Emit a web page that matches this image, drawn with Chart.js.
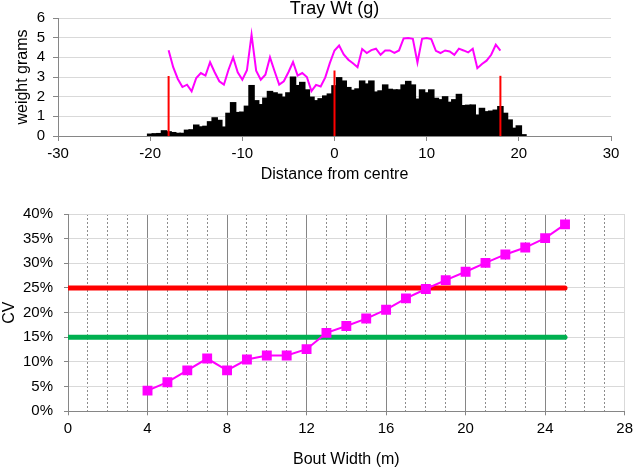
<!DOCTYPE html>
<html>
<head>
<meta charset="utf-8">
<script src="https://cdn.jsdelivr.net/npm/chart.js@4.4.1/dist/chart.umd.min.js"></script>
<style>
  html, body { margin: 0; padding: 0; background: #fff; }
  canvas { display: block; }
</style>
</head>
<body>
<canvas id="trayChart" width="638" height="190"></canvas>
<canvas id="cvChart" width="638" height="280"></canvas>
<script>
// ---- top chart: tray weights across the bout ----
const binStart = -20;
const binStep = 0.5;
const trayWeights = [
    0.1, 0.12, 0.13, 0.27, 0.22, 0.18, 0.14, 0.14, 0.3, 0.32,
    0.56, 0.47, 0.5, 0.73, 0.93, 0.8, 0.46, 1.16, 1.7, 1.2,
    1.22, 1.52, 2.57, 1.8, 1.6, 1.93, 2.27, 2.2, 2.13, 1.98,
    2.2, 3.0, 2.57, 2.73, 2.35, 1.98, 1.8, 1.9, 2.04, 2.14,
    2.56, 2.97, 2.8, 2.47, 2.33, 2.4, 2.8, 2.65, 2.8, 2.24,
    2.3, 2.6, 2.38, 2.35, 2.35, 2.6, 2.78, 2.6, 1.88, 2.35,
    2.2, 2.35, 1.92, 1.85, 2.0, 1.72, 1.85, 2.12, 1.55, 1.57,
    1.58, 1.07, 1.41, 1.24, 1.27, 1.32, 1.5, 1.16, 0.82, 0.4,
    0.52, 0.07
];

const spreadStart = -18;
const spreadStep = 0.5;
const spreadValues = [
    4.36, 3.5, 2.9, 2.49, 2.61, 2.27, 2.95, 3.2, 3.07, 3.75,
    3.24, 2.78, 2.61, 3.37, 4.0, 3.24, 2.86, 3.34, 5.15, 3.32,
    2.86, 3.12, 4.0, 3.29, 2.61, 2.78, 3.24, 3.76, 3.07, 3.2,
    3.0, 2.28, 2.6, 2.52, 2.98, 3.72,
    4.35, 4.6, 4.15, 3.88, 3.7, 3.5, 4.42, 4.22, 4.37, 4.44,
    4.13, 4.35, 4.35, 4.23, 4.35, 4.96, 4.98, 4.94, 3.74, 4.94,
    4.98, 4.93, 4.33, 4.22, 4.35, 4.3, 4.13, 4.44, 4.35, 4.25,
    4.44, 3.45, 3.66, 3.83, 4.13, 4.64, 4.34
];

const markerX = [-18, 0, 18];
const markerTop = [3.05, 3.33, 3.06];

// ---- bottom chart: CV against bout width ----
const boutWidth = [4, 5, 6, 7, 8, 9, 10, 11, 12, 13, 14, 15, 16, 17, 18, 19, 20, 21, 22, 23, 24, 25];
const cvPercent = [4.2, 5.9, 8.3, 10.7, 8.3, 10.5, 11.3, 11.3, 12.6, 15.9, 17.3, 18.8, 20.6, 22.9, 24.8, 26.6, 28.3, 30.1, 31.8, 33.2, 35.1, 37.9];
const limitX = [0, 25];
const upperLimit = 25;
const lowerLimit = 15;

Chart.defaults.font.family = '"Liberation Sans", Arial, sans-serif';
Chart.defaults.font.size = 15;
Chart.defaults.color = "#000";

const axisGrey = "#868686";
const gridGrey = "#d9d9d9";

function buildTrayChart() {
    const bars = trayWeights.map((w, i) => ({ x: binStart + i * binStep, y: w }));
    const spread = spreadValues.map((v, i) => ({ x: spreadStart + i * spreadStep, y: v }));

    const markers = markerX.map((x, i) => ({
        type: "line",
        data: [{ x: x, y: 0 }, { x: x, y: markerTop[i] }],
        borderColor: "#ff0000",
        borderWidth: 2,
        pointRadius: 0,
        order: 1
    }));

    new Chart(document.getElementById("trayChart"), {
        type: "bar",
        data: {
            datasets: [
                {
                    data: bars,
                    backgroundColor: "#000",
                    borderWidth: 0,
                    barPercentage: 1.2,
                    categoryPercentage: 1,
                    inflateAmount: 0.5,
                    order: 3
                },
                {
                    type: "line",
                    data: spread,
                    borderColor: "#ff00ff",
                    borderWidth: 2,
                    pointRadius: 0,
                    tension: 0,
                    order: 2
                },
                ...markers
            ]
        },
        options: {
            responsive: false,
            animation: false,
            events: [],
            layout: { padding: { left: 0, right: 27, top: 0, bottom: 0 } },
            plugins: {
                legend: { display: false },
                tooltip: { enabled: false },
                title: {
                    display: true,
                    text: "Tray Wt (g)",
                    fullSize: false,
                    color: "#000",
                    font: { size: 18, weight: "normal", lineHeight: 1 },
                    padding: 0
                }
            },
            scales: {
                x: {
                    type: "linear",
                    offset: false,
                    min: -30,
                    max: 30,
                    ticks: { stepSize: 10, padding: 4 },
                    grid: { drawOnChartArea: false, offset: false, tickLength: 5, tickColor: axisGrey },
                    border: { color: axisGrey },
                    title: {
                        display: true,
                        text: "Distance from centre",
                        font: { size: 16 },
                        padding: { top: 0, bottom: 6 }
                    },
                    afterFit: s => { s.height = 54; }
                },
                y: {
                    min: 0,
                    max: 6,
                    ticks: { stepSize: 1, padding: 8, autoSkip: false },
                    grid: { color: gridGrey, tickLength: 5, tickColor: axisGrey },
                    border: { color: axisGrey },
                    title: {
                        display: true,
                        text: "weight grams",
                        font: { size: 16 },
                        padding: { top: 13, bottom: 0 }
                    },
                    afterFit: s => { s.width = 58; }
                }
            }
        }
    });
}

function buildCvChart() {
    const cv = boutWidth.map((w, i) => ({ x: w, y: cvPercent[i] }));
    const upper = limitX.map(x => ({ x: x, y: upperLimit }));
    const lower = limitX.map(x => ({ x: x, y: lowerLimit }));

    new Chart(document.getElementById("cvChart"), {
        type: "line",
        data: {
            datasets: [
                {
                    data: cv,
                    borderColor: "#ff00ff",
                    backgroundColor: "#ff00ff",
                    borderWidth: 2,
                    pointStyle: "rect",
                    pointRadius: 7,
                    pointBorderWidth: 0,
                    tension: 0,
                    order: 1
                },
                {
                    data: upper,
                    borderColor: "#ff0000",
                    borderWidth: 5,
                    borderCapStyle: "round",
                    pointRadius: 0,
                    order: 2
                },
                {
                    data: lower,
                    borderColor: "#00b050",
                    borderWidth: 5,
                    borderCapStyle: "round",
                    pointRadius: 0,
                    order: 3
                }
            ]
        },
        options: {
            responsive: false,
            animation: false,
            events: [],
            layout: { padding: { left: 0, right: 12, top: 24, bottom: 0 } },
            plugins: {
                legend: { display: false },
                tooltip: { enabled: false }
            },
            scales: {
                x: {
                    type: "linear",
                    min: 0,
                    max: 28,
                    ticks: { stepSize: 4, padding: 5 },
                    grid: {
                        color: c => (c.tick && c.tick.value === 28) ? gridGrey : axisGrey,
                        tickLength: 4,
                        tickColor: axisGrey
                    },
                    border: { color: axisGrey },
                    title: {
                        display: true,
                        text: "Bout Width (m)",
                        font: { size: 16 },
                        padding: { top: 0, bottom: 1 }
                    },
                    afterFit: s => { s.height = 58.7; }
                },
                xMinor: {
                    type: "linear",
                    position: "bottom",
                    min: 0,
                    max: 28,
                    ticks: { display: false, stepSize: 1 },
                    grid: {
                        drawTicks: false,
                        color: c => (c.tick && c.tick.value % 4 === 0) ? "rgba(0,0,0,0)" : "#8c8c8c"
                    },
                    border: { display: false, dash: [2, 2] }
                },
                y: {
                    min: 0,
                    max: 40,
                    ticks: { stepSize: 5, padding: 11, autoSkip: false, callback: v => v + "%" },
                    grid: { color: gridGrey, tickLength: 4, tickColor: axisGrey },
                    border: { color: axisGrey },
                    title: {
                        display: true,
                        text: "CV",
                        font: { size: 16 },
                        padding: { top: 0, bottom: 0 }
                    },
                    afterFit: s => { s.width = 68; }
                }
            }
        }
    });
}

buildTrayChart();
buildCvChart();
</script>
</body>
</html>
